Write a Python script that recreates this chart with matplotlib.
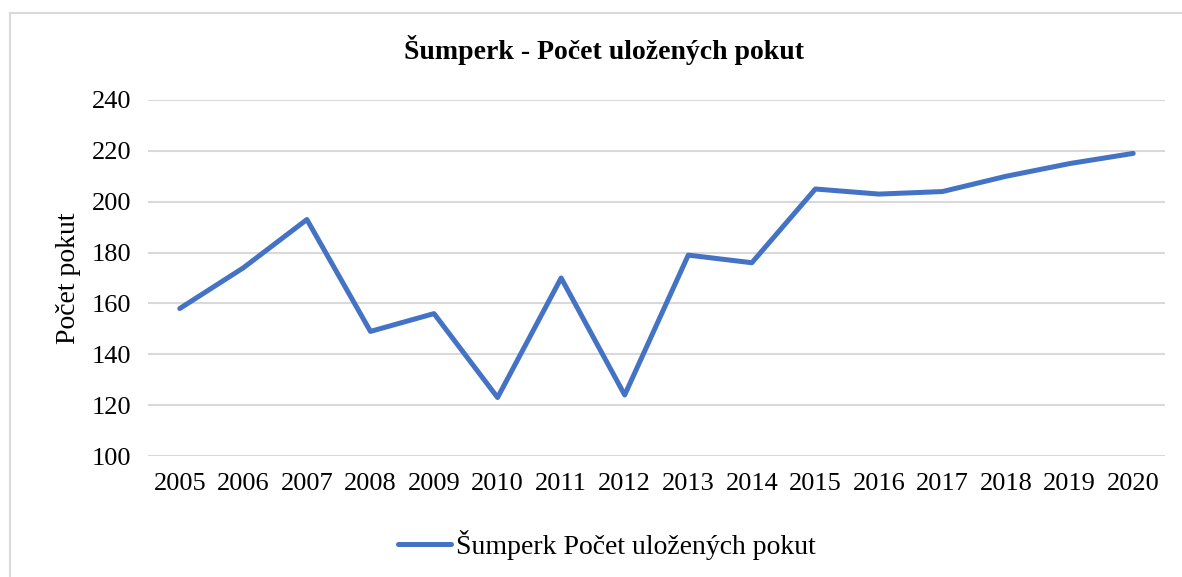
import matplotlib.pyplot as plt
from matplotlib.patches import Rectangle

# hodnoty
roky = [str(r) for r in range(2005, 2021)]
pokuty = [158, 174, 193, 149, 156, 123, 170, 124, 179, 176, 205, 203, 204, 210, 215, 219]
nazev = 'Šumperk - Počet uložených pokut'
popisek = 'Šumperk Počet uložených pokut'

plt.rcParams['font.family'] = ['Liberation Serif', 'DejaVu Serif']

fig = plt.figure(figsize=(11.82, 5.77), dpi=100)
ax = fig.add_axes([0.1252, 0.2097, 0.8604, 0.617])

# rámeček kolem celého grafu
fig.patches.append(Rectangle((10 / 1182, -0.01), 1.1, 1 - 13 / 577 + 0.01,
                             transform=fig.transFigure, fill=False,
                             edgecolor='#D9D9D9', linewidth=1.5))

x = range(len(roky))
ax.plot(x, pokuty, color='#4472C4', linewidth=3.6, solid_capstyle='round',
        solid_joinstyle='round', label=popisek)

ax.set_xlim(-0.5, len(roky) - 0.5)
ax.set_ylim(100, 240)
ax.set_yticks(range(100, 241, 20))
ax.set_xticks(list(x))
ax.set_xticklabels(roky)
ax.grid(axis='y', color='#D9D9D9', linewidth=1.5)
ax.set_axisbelow(True)
for s in ax.spines.values():
    s.set_visible(False)
ax.tick_params(length=0, labelsize=19)
ax.tick_params(axis='y', pad=12)
ax.tick_params(axis='x', pad=12)

ax.set_ylabel('Počet pokut', fontsize=20, labelpad=8)
fig.text(604 / 1182, 1 - 50 / 577, nazev, ha='center', va='center',
         fontsize=20, fontweight='bold')

fig.legend(loc='center', bbox_to_anchor=(607 / 1182, 1 - 545 / 577), frameon=False,
           fontsize=20, handlelength=1.9, handletextpad=0.2)

fig.savefig('out.png', dpi=100)
